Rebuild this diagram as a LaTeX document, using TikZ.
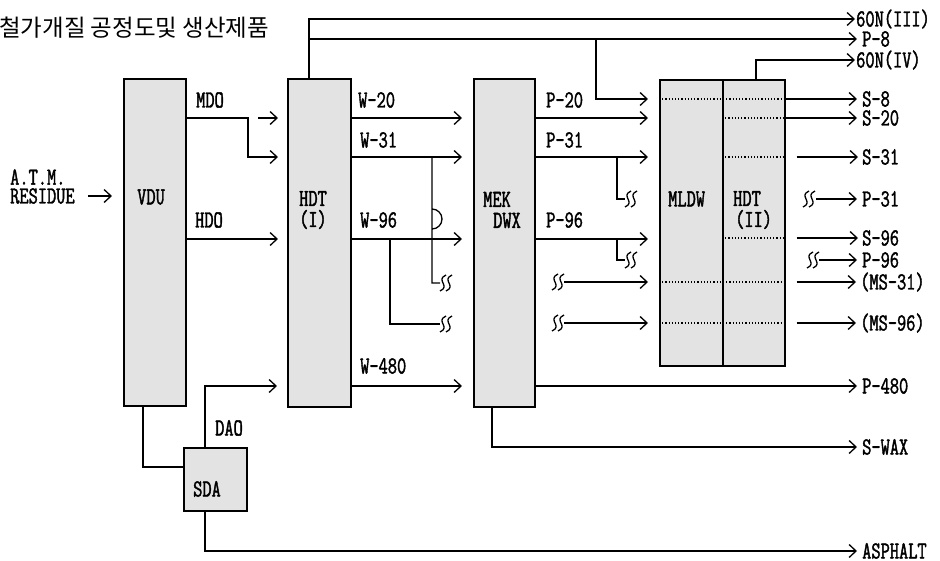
\documentclass[tikz,border=0pt]{standalone}
\usepackage{fontspec}
\usetikzlibrary{arrows.meta}
\newfontfamily\lblface[FakeStretch=0.73,FakeBold=1.6]{Latin Modern Mono}
\newfontfamily\krface{Noto Sans CJK KR}
\tikzset{
  unit/.style={draw, line width=1.6pt, fill=black!11, inner sep=0pt, anchor=north west},
  pipe/.style={line width=1.3pt},
  flow/.style={pipe, -{Straight Barb[length=7pt,width=13pt]}},
  cut/.style={line width=1.2pt, dotted},
  lbl/.style={font=\lblface\fontsize{24.5}{21}\selectfont, inner sep=0pt, anchor=west},
  brk/.pic={
    \foreach \dx in {-3,3}
      \draw[line width=1.3pt] (\dx+3,-8) .. controls (\dx-8,-3) and (\dx+8,3) .. (\dx-3,8);
  }
}
\begin{document}
\begin{tikzpicture}[x=1pt, y=-1pt]
\useasboundingbox (0,0) rectangle (940,560);
\node[anchor=west, inner sep=0pt, font=\krface\fontsize{23.5}{25}\selectfont] (title) at (-1,28) {철가개질 공정도및 생산제품};
% units
\node[unit, minimum width=62pt, minimum height=327pt] (vdu) at (123,78) {};
\node[unit, minimum width=63pt, minimum height=328pt] (hdtI) at (287,78) {};
\node[unit, minimum width=61pt, minimum height=328pt] (mek) at (473,78) {};
\node[unit, minimum width=63pt, minimum height=286pt] (mldw) at (659,79) {};
\node[unit, minimum width=62pt, minimum height=286pt] (hdtII) at (722,79) {};
\node[unit, minimum width=63pt, minimum height=63pt] (sda) at (183,447) {};
\node[lbl] (vdut) at (137,197) {VDU};
\node[lbl, anchor=center, align=center] (hdtIt) at (313,210) {HDT\\(I)};
\node[lbl, align=left] (mekt) at (483,210) {MEK\\\hspace*{10pt}DWX};
\node[lbl] (mldwt) at (668,199) {MLDW};
\node[lbl, align=left] (hdtIIt) at (733,210) {HDT\\\hspace*{2pt}(II)};
\node[lbl] (sdat) at (193,489) {SDA};
% stream names
\node[lbl] (atm) at (10,177) {A.T.M.};
\node[lbl] (res) at (10,196) {RESIDUE};
\node[lbl] (mdo) at (196,100) {MDO};
\node[lbl] (hdo) at (195,220) {HDO};
\node[lbl] (dao) at (215,428) {DAO};
\node[lbl] (w20) at (358,100) {W-20};
\node[lbl] (w31) at (360,140) {W-31};
\node[lbl] (w96) at (360,220) {W-96};
\node[lbl] (w480) at (360,366) {W-480};
\node[lbl] (p20) at (546,100) {P-20};
\node[lbl] (p31) at (546,140) {P-31};
\node[lbl] (p96) at (546,220) {P-96};
% products
\node[lbl] (n3) at (856,19) {60N(III)};
\node[lbl] (p8) at (862,39) {P-8};
\node[lbl] (n4) at (856,60) {60N(IV)};
\node[lbl] (s8) at (862,99) {S-8};
\node[lbl] (s20) at (862,118) {S-20};
\node[lbl] (s31) at (862,157) {S-31};
\node[lbl] (p31o) at (862,199) {P-31};
\node[lbl] (s96) at (862,238) {S-96};
\node[lbl] (p96o) at (862,260) {P-96};
\node[lbl] (ms31) at (860,282) {(MS-31)};
\node[lbl] (ms96) at (860,323) {(MS-96)};
\node[lbl] (p480) at (862,386) {P-480};
\node[lbl] (swax) at (862,447) {S-WAX};
\node[lbl] (asph) at (862,551) {ASPHALT};
% rows and branch points
\coordinate (y118) at (0,118);
\coordinate (y157) at (0,157);
\coordinate (y239) at (0,239);
\coordinate (y386) at (0,386);
\coordinate (mdob) at (248,118);
\coordinate (w31b) at (432,157);
\coordinate (w96b) at (390,239);
\coordinate (p31b) at (617,157);
\coordinate (p96b) at (617,239);
\coordinate (p8b) at (596,39);
\coordinate (bk1) at (440,283);
\coordinate (bk2) at (440,324);
\coordinate (bk3) at (625,199);
\coordinate (bk4) at (625,260);
\coordinate (bk5) at (552,282);
\coordinate (bk6) at (552,323);
\coordinate (bk7) at (803,199);
\coordinate (bk8) at (807,260);
% feed and VDU
\draw[flow, shorten <=13pt, shorten >=11pt] (res.east) -- (vdu.west |- res.east);
\draw[flow, shorten >=9pt] (vdu.east |- y118) -| (mdob |- y157) -- (hdtI.west |- y157);
\draw[flow, shorten <=10pt, shorten >=9pt] (mdob) -- (hdtI.west |- y118);
\draw[flow, shorten >=9pt] (vdu.east |- y239) -- (hdtI.west |- y239);
\draw[pipe] (vdu.south -| 143,0) |- (sda.west |- 0,467);
\draw[flow, shorten >=10pt] (sda.north -| 205,0) |- (hdtI.west |- y386);
\draw[flow, shorten >=5pt] (sda.south -| 205,0) |- (asph.west);
% HDT(I)
\draw[flow, shorten >=1pt] (hdtI.north -| 309,0) |- (n3.west);
\draw[flow, shorten >=5pt] (hdtI.north -| 309,0) |- (p8.west);
\foreach \r in {y118,y157,y239,y386}
  \draw[flow, shorten >=11pt] (hdtI.east |- \r) -- (mek.west |- \r);
\draw[pipe] (w31b) -- ([yshift=10pt]w31b |- y239) arc[start angle=90, end angle=-90, radius=10] |- (bk1);
\draw[pipe] (w96b) |- (bk2);
\pic at ([xshift=6pt]bk1) {brk};
\pic at ([xshift=6pt]bk2) {brk};
% MEK DWX
\foreach \r in {y118,y157,y239}
  \draw[flow, shorten >=11pt] (mek.east |- \r) -- (mldw.west |- \r);
\draw[pipe] (p31b) |- (bk3);
\draw[pipe] (p96b) |- (bk4);
\pic at ([xshift=6pt]bk3) {brk};
\pic at ([xshift=6pt]bk4) {brk};
\draw[flow, shorten <=12pt, shorten >=11pt] (bk5) -- (mldw.west |- bk5);
\draw[flow, shorten <=12pt, shorten >=11pt] (bk6) -- (mldw.west |- bk6);
\pic at ([xshift=6pt]bk5) {brk};
\pic at ([xshift=6pt]bk6) {brk};
\draw[flow, shorten >=11pt] (p8b) |- (mldw.west |- s8.west);
\draw[flow, shorten >=5pt] (mek.east |- y386) -- (p480.west);
\draw[flow, shorten >=5pt] (mek.south -| 492,0) |- (swax.west);
% MLDW / HDT(II)
\draw[cut] (mldw.west |- s8.west) -- (hdtII.east |- s8.west);
\foreach \o in {s20,s31,s96}
  \draw[cut] (hdtII.west |- \o.west) -- (hdtII.east |- \o.west);
\foreach \o in {ms31,ms96}
  \draw[cut] (mldw.west |- \o.west) -- (hdtII.east |- \o.west);
\draw[flow, shorten >=1pt] (hdtII.north -| 756,0) |- (n4.west);
\foreach \o in {s8,s20}
  \draw[flow, shorten >=5pt] (hdtII.east |- \o.west) -- (\o.west);
\foreach \o in {s31,s96,ms31,ms96}
  \draw[flow, shorten <=11pt, shorten >=4pt] (hdtII.east |- \o.west) -- (\o.west);
\draw[flow, shorten <=13pt, shorten >=5pt] (bk7) -- (p31o.west);
\draw[flow, shorten <=12pt, shorten >=5pt] (bk8) -- (p96o.west);
\pic at ([xshift=6pt]bk7) {brk};
\pic at ([xshift=6pt]bk8) {brk};
\end{tikzpicture}
\end{document}
